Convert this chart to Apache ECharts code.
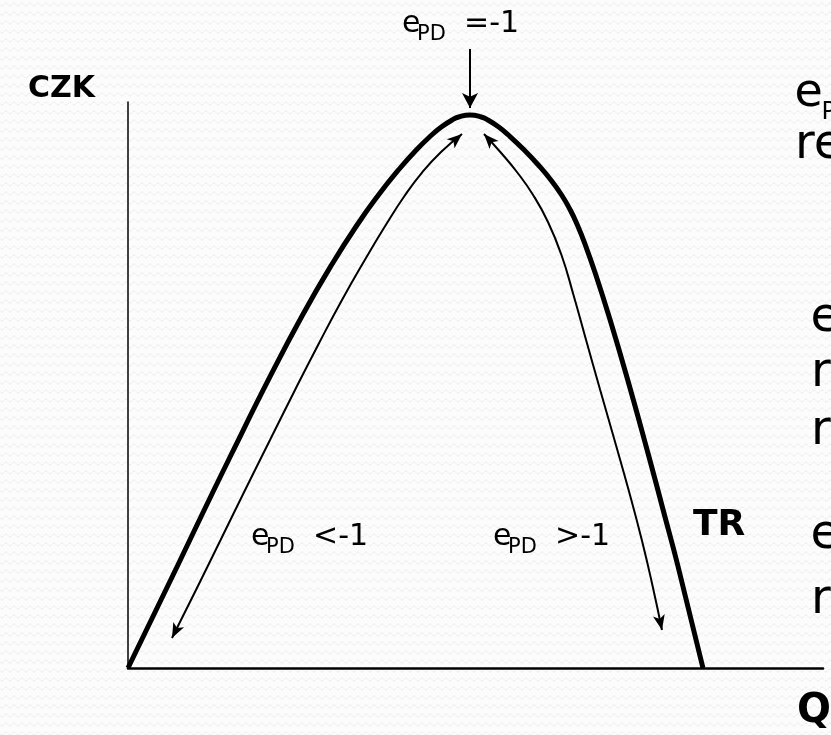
<!DOCTYPE html>
<html>
<head>
<meta charset="utf-8">
<script src="https://cdn.jsdelivr.net/npm/echarts@6/dist/echarts.min.js"></script>
<style>
  html, body { margin: 0; padding: 0; }
  #main { width: 831px; height: 735px; }
</style>
</head>
<body>
<div id="main"></div>
<script>
// TR curve and the elasticity arrows, in axis units (Q 0..100, CZK 0..100)
var trCurve = [[0, 0], [7.18, 18.20], [10.62, 27.03], [14.82, 37.63], [20.56, 51.77],
    [25.12, 62.37], [29.28, 71.20], [32.96, 78.27], [36.04, 83.57], [38.91, 87.99],
    [41.48, 91.52], [43.70, 94.17], [45.08, 95.58], [46.63, 96.82], [47.58, 97.35],
    [49.21, 97.70], [50.83, 97.35], [51.78, 96.82], [53.34, 95.58], [54.73, 94.17],
    [57.01, 91.52], [59.04, 88.87], [60.85, 86.22], [62.39, 83.57], [63.64, 80.92],
    [64.66, 78.27], [65.81, 74.73], [67.32, 69.43], [69.15, 62.37], [71.70, 51.77],
    [74.89, 37.63], [77.19, 27.03], [79.09, 18.20], [82.73, 0]];
var leftArrow = [[6.33, 5.30], [9.78, 13.78], [13.32, 22.61], [16.85, 31.45],
    [20.43, 40.28], [24.03, 49.12], [27.35, 57.07], [30.79, 65.02], [34.24, 72.44],
    [37.09, 78.27], [39.78, 83.39], [42.36, 87.63], [45.04, 91.17], [48.06, 94.35]];
var rightArrow = [[51.22, 94.35], [53.57, 91.17], [55.96, 87.63], [58.29, 83.57],
    [60.43, 78.80], [62.37, 72.97], [64.10, 65.90], [65.91, 57.95], [67.94, 49.12],
    [70.00, 40.28], [72.03, 31.45], [73.93, 22.61], [75.45, 14.66], [76.83, 6.71]];
var peakArrow = [[49.21, 109.36], [49.21, 98.94]];

var yName = 'CZK';
var xName = 'Q';
var curveName = 'TR';
var elastSymbol = 'e';
var elastSub = 'PD';
var peakRest = '=-1';
var elasticRest = '<-1';
var inelasticRest = '>-1';
var sideTop = ['=-1 je TR maximální', 'resp. MR = 0'];
var sideMid = ['<-1', 'růst ceny', 'rovná se poklesu TR'];
var sideLow = ['>-1', 'růst ceny'];

var font = 'DejaVu Sans';

// faint wavy paper texture
var tile = document.createElement('canvas');
tile.width = 8;
tile.height = 9;
var tctx = tile.getContext('2d');
tctx.fillStyle = '#fcfcfc';
tctx.fillRect(0, 0, 8, 9);
tctx.strokeStyle = '#ececec';
tctx.lineWidth = 1;
tctx.beginPath();
for (var i = 0; i <= 8; i++) {
    var yy = 4.5 + 1.6 * Math.sin(i / 8 * Math.PI * 2);
    if (i === 0) tctx.moveTo(i, yy); else tctx.lineTo(i, yy);
}
tctx.stroke();

// text placed by its alphabetic baseline
function txt(x, baseline, text, size, bold, align) {
    return {
        type: 'text', x: x, y: baseline - 0.346 * size, silent: true,
        style: {
            text: text, fill: '#000', fontFamily: font, fontSize: size,
            fontWeight: bold ? 'bold' : 'normal',
            align: align || 'left', verticalAlign: 'middle'
        }
    };
}
// e with subscript PD and the rest of the label
function elastLabel(x, baseline, rest, size, subSize, subDx, restDx) {
    return [
        txt(x, baseline, elastSymbol, size),
        txt(x + subDx, baseline + size * 0.24, elastSub, subSize),
        txt(x + restDx, baseline, rest, size)
    ];
}

function arrowLine(name, pts, width) {
    return {
        name: name,
        type: 'line',
        data: pts,
        smooth: 0.5,
        clip: false,
        silent: true,
        symbol: 'none',
        lineStyle: { color: '#000', width: width },
        itemStyle: { color: '#000', borderWidth: 0 },
        z: 3
    };
}

var labels = [
    txt(95, 100, yName, 30, true, 'right'),
    txt(693, 538, curveName, 36, true),
    txt(797, 725, xName, 40, true)
]
    .concat(elastLabel(402, 35, peakRest, 30, 21, 15, 62))
    .concat(elastLabel(251, 548, elasticRest, 30, 21, 15, 62))
    .concat(elastLabel(493, 548, inelasticRest, 30, 21, 15, 62))
    .concat(elastLabel(794.5, 110, sideTop[0], 46, 24, 27, 60))
    .concat([
        txt(795, 162, sideTop[1], 48),
        txt(810.5, 335, elastSymbol, 48),
        txt(811, 390, sideMid[1], 48),
        txt(811, 448, sideMid[2], 48),
        txt(810.5, 552, elastSymbol, 48),
        txt(811, 617, sideLow[1], 48)
    ]);

var option = {
    backgroundColor: { image: tile, repeat: 'repeat' },
    animation: false,
    grid: { left: 128, right: 8, top: 102, bottom: 67, outerBoundsMode: 'none' },
    xAxis: {
        type: 'value', min: 0, max: 100,
        axisLine: { show: true, onZero: true, lineStyle: { color: '#000', width: 2.5 } },
        axisTick: { show: false }, axisLabel: { show: false }, splitLine: { show: false }
    },
    yAxis: {
        type: 'value', min: 0, max: 100,
        axisLine: { show: true, onZero: true, lineStyle: { color: '#000', width: 1.5 } },
        axisTick: { show: false }, axisLabel: { show: false }, splitLine: { show: false }
    },
    series: [
        {
            name: curveName,
            type: 'line',
            data: trCurve,
            smooth: 0.5,
            symbol: 'none',
            silent: true,
            lineStyle: { color: '#000', width: 5 },
            z: 4
        },
        arrowLine('left', leftArrow, 2),
        arrowLine('right', rightArrow, 2),
        arrowLine('peak', peakArrow, 2)
    ],
    graphic: labels
};

var myChart = echarts.init(document.getElementById('main'));
myChart.setOption(option);

// arrow heads follow the direction of the end segment in screen space;
// the tip of the 'arrow' symbol sits on the data point
function angleAt(a, b) {
    var pa = myChart.convertToPixel({ gridIndex: 0 }, a);
    var pb = myChart.convertToPixel({ gridIndex: 0 }, b);
    return Math.atan2(pa[1] - pb[1], pb[0] - pa[0]) * 180 / Math.PI - 90;
}
function arrowItems(pts, head, both) {
    var n = pts.length;
    return pts.map(function (p, i) {
        var item = { value: p, symbol: 'none' };
        if (i === n - 1) {
            item.symbol = 'arrow';
            item.symbolSize = head;
            item.symbolRotate = angleAt(pts[n - 2], pts[n - 1]);
        } else if (i === 0 && both) {
            item.symbol = 'arrow';
            item.symbolSize = head;
            item.symbolRotate = angleAt(pts[1], pts[0]);
        }
        return item;
    });
}

myChart.setOption({
    series: [
        {},
        { symbol: 'arrow', data: arrowItems(leftArrow, [9, 15], true) },
        { symbol: 'arrow', data: arrowItems(rightArrow, [9, 15], true) },
        { symbol: 'arrow', data: arrowItems(peakArrow, [12, 15], false) }
    ]
});
</script>
</body>
</html>
